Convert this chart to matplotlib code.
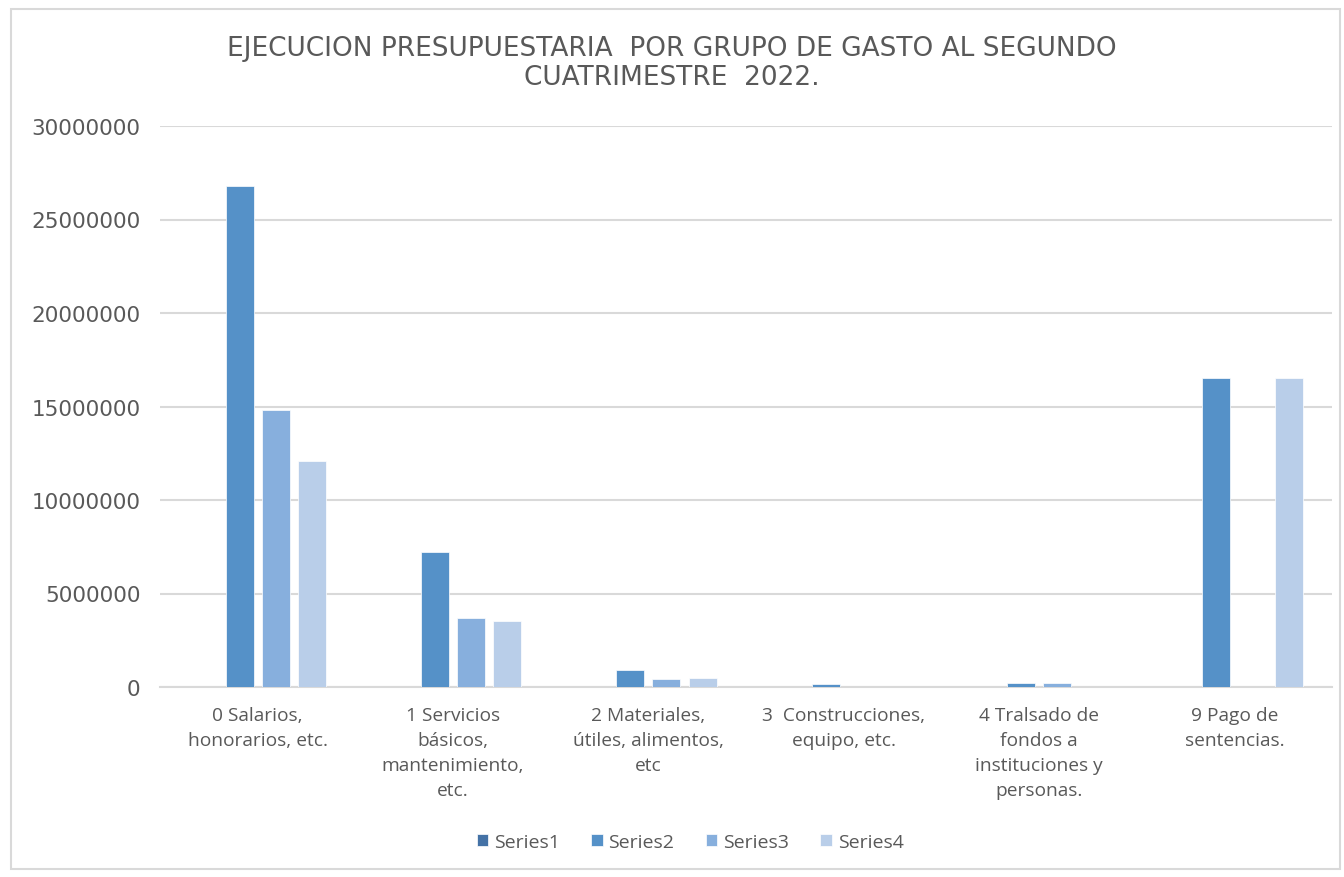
import matplotlib
matplotlib.use("Agg")
import matplotlib.pyplot as plt
import numpy as np
from matplotlib.patches import Rectangle

categories = ["0 Salarios,\nhonorarios, etc.",
              "1 Servicios\nbásicos,\nmantenimiento,\netc.",
              "2 Materiales,\nútiles, alimentos,\netc",
              "3  Construcciones,\nequipo, etc.",
              "4 Tralsado de\nfondos a\ninstituciones y\npersonas.",
              "9 Pago de\nsentencias."]
series_names = ["Series1", "Series2", "Series3", "Series4"]
series1 = [0, 0, 0, 0, 0, 0]
series2 = [26780000, 7220000, 910000, 160000, 200000, 16520000]
series3 = [14800000, 3690000, 430000, 0, 200000, 0]
series4 = [12080000, 3530000, 480000, 0, 0, 16520000]
yticks = [0, 5000000, 10000000, 15000000, 20000000, 25000000, 30000000]
title = "EJECUCION PRESUPUESTARIA  POR GRUPO DE GASTO AL SEGUNDO\nCUATRIMESTRE  2022."

colors = ["#4472A6", "#5591C8", "#87AFDD", "#B9CEE9"]
txt = "#595959"
font = "Open Sans"
wide = "DejaVu Sans"

fig = plt.figure(figsize=(13.44, 8.78), dpi=100)
fig.patches.append(Rectangle((11/1344, 1-870/878), 1329/1344, 860/878,
                             transform=fig.transFigure, fill=False,
                             edgecolor="#D9D9D9", linewidth=1.5))
ax = fig.add_axes([160/1344, 1-688/878, 1172/1344, 561/878])

x = np.arange(len(categories))
w = 0.1436
step = 0.185
for i, (name, vals) in enumerate(zip(series_names, [series1, series2, series3, series4])):
    ax.bar(x + (i - 1.5) * step, vals, width=w, color=colors[i], label=name,
           edgecolor="white", linewidth=0.5, zorder=3)

ax.set_xlim(-0.5, len(categories) - 0.5)
ax.set_ylim(0, 30000000)
ax.set_yticks(yticks)
ax.set_yticklabels([str(v) for v in yticks], fontsize=15.5, color=txt, family=wide)
ax.set_xticks(x)
ax.set_xticklabels(categories, fontsize=13.8, color=txt, family=font, linespacing=1.48, va="top")
ax.tick_params(axis="both", length=0)
ax.tick_params(axis="y", pad=14)
ax.tick_params(axis="x", pad=14)
ax.grid(axis="y", color="#D9D9D9", linewidth=1.5, zorder=0)
for s in ["top", "right", "left"]:
    ax.spines[s].set_visible(False)
ax.spines["bottom"].set_color("#D9D9D9")
ax.spines["bottom"].set_linewidth(1.5)

fig.text(0.5, 1-63.5/878, title, ha="center", va="center", fontsize=19, color=txt,
         family=wide, linespacing=1.18)

leg = fig.legend(loc="center", bbox_to_anchor=(690/1344, 1-843/878), ncol=4, frameon=False,
                 prop={"family": font, "size": 14}, handlelength=0.6, handleheight=0.6,
                 handletextpad=0.3, columnspacing=1.6)
for t in leg.get_texts():
    t.set_color(txt)

fig.savefig("out.png", dpi=100)
